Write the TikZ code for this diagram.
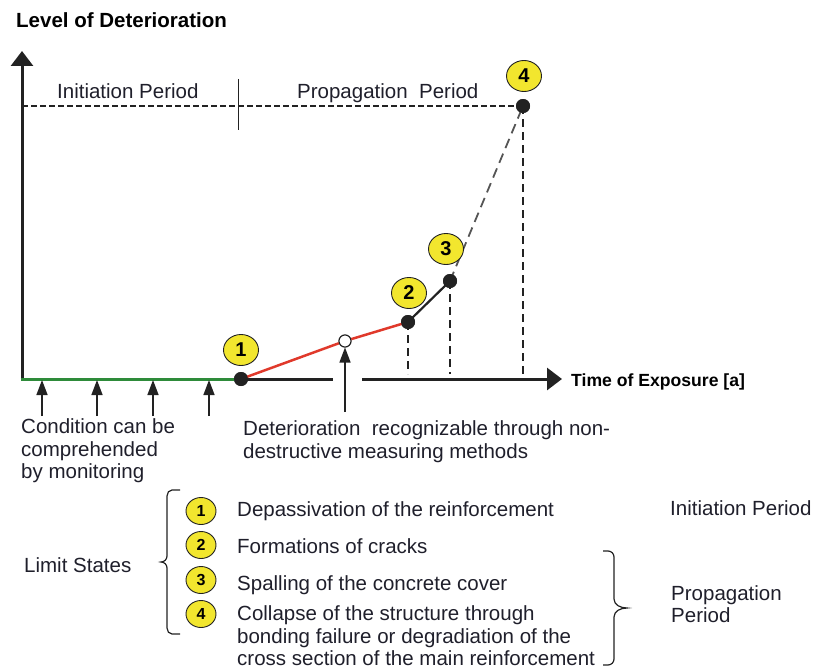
\documentclass[tikz,border=0pt]{standalone}
\usepackage{fontspec}
\setmainfont{Liberation Sans}
\usetikzlibrary{arrows.meta,shapes.geometric}
\definecolor{txt}{HTML}{1F1F2B}
\definecolor{grn}{HTML}{2E8B3A}
\definecolor{redl}{HTML}{E0392B}
\definecolor{ylw}{HTML}{F2E62E}
\definecolor{ax}{HTML}{222222}
\definecolor{dsh}{HTML}{555555}
\begin{document}
\begin{tikzpicture}[x=1pt,y=-1pt,
  base/.style={font=\fontsize{20.5}{22.5}\selectfont, text=txt, inner sep=0pt, anchor=base west},
  boldlbl/.style={base, font=\fontsize{20.5}{22.5}\selectfont\bfseries, text=black},
  axislbl/.style={base, font=\fontsize{17.6}{20}\selectfont\bfseries, text=black},
  num/.style={ellipse, draw=ax, line width=0.9pt, fill=ylw, minimum width=35pt, minimum height=31pt, inner sep=0pt, font=\fontsize{20}{20}\selectfont\bfseries},
  numsmall/.style={num, minimum width=30pt, minimum height=27pt, font=\fontsize{16}{16}\selectfont\bfseries},
  dot/.style={circle, fill=ax, minimum size=14pt, inner sep=0pt},
  odot/.style={circle, draw=ax, fill=white, line width=1pt, minimum size=12pt, inner sep=0pt},
  axisline/.style={line width=3pt, draw=ax},
  bigtip/.style={-{Triangle[length=15pt,width=22pt]}},
  uparrow/.style={line width=1.4pt, draw=ax, -{Triangle[length=15pt,width=11pt]}},
  vdash/.style={line width=2.2pt, draw=ax, dash pattern=on 8pt off 5pt},
  hdash/.style={line width=1.3pt, draw=ax, dash pattern=on 6pt off 3pt},
  bracestyle/.style={line width=1.2pt, draw=ax}
]
\useasboundingbox (0,0) rectangle (814,669);

% axes coordinates
\coordinate (O) at (22,379);
\coordinate (ytip) at (22,51);
\coordinate (xtip) at (562,379);
\coordinate (gapL) at (333,379);
\coordinate (gapR) at (362,379);
\coordinate (ytop) at (22,106);
\coordinate (divT) at (238,79);
\coordinate (divB) at (238,130);

% points
\node[dot] (d1) at (241,379) {};
\node[odot] (o) at (345,341) {};
\node[dot] (d2) at (408,322) {};
\node[dot] (d3) at (450,281) {};
\node[dot] (d4) at (523,106) {};

\coordinate (f2) at (408,374);
\coordinate (f3) at (450,374);
\coordinate (f4) at (523,374);

% dashed lines
\draw[hdash] (ytop) -- (d4.center);
\draw[line width=1pt, draw=ax] (divT) -- (divB);
\draw[vdash] (d2.center) -- (f2);
\draw[vdash] (d3.center) -- (f3);
\draw[vdash] (d4.center) -- (f4);

% axes
\draw[axisline, bigtip] (O) -- (ytip);
\draw[axisline] (d1.center) -- (gapL);
\draw[axisline, bigtip] (gapR) -- (xtip);
\draw[line width=3pt, draw=grn, line cap=butt] ([xshift=-1.5pt]O) -- (d1.center);

% curve
\draw[line width=2.5pt, draw=redl] (d1.center) -- (o);
\draw[line width=2.5pt, draw=redl] (o) -- (d2.center);
\draw[line width=2.2pt, draw=ax] (d2.center) -- (d3.center);
\draw[line width=1.8pt, draw=dsh, dash pattern=on 10pt off 6pt] (d3.center) -- (d4.center);

% redraw dots on top
\node[dot] at (d1) {};
\node[dot] at (d2) {};
\node[dot] at (d3) {};
\node[dot] at (d4) {};
\node[odot] at (o) {};

% number marks in the chart
\node[num] (c1) at (241,350) {1};
\node[num] (c2) at (409,293) {2};
\node[num] (c3) at (446,249) {3};
\node[num] (c4) at (524,76) {4};

% labels in chart
\node[boldlbl] (title) at (16,28) {Level of Deterioration};
\node[base] (ip) at (57,99) {Initiation Period};
\node[base] (pp) at (297,99) {Propagation~~Period};
\node[axislbl] (xl) at (571,386) {Time of Exposure [a]};

% up arrows (monitoring)
\coordinate (a1) at (42,416);
\coordinate (a2) at (97,416);
\coordinate (a3) at (153,416);
\coordinate (a4) at (209,416);
\coordinate (a1t) at (42,380);
\coordinate (a2t) at (97,380);
\coordinate (a3t) at (153,380);
\coordinate (a4t) at (209,380);
\draw[uparrow] (a1) -- (a1t);
\draw[uparrow] (a2) -- (a2t);
\draw[uparrow] (a3) -- (a3t);
\draw[uparrow] (a4) -- (a4t);
\coordinate (a5) at (345,412);
\draw[uparrow] (a5) -- (o.south);

% monitoring texts
\node[base] (m1) at (21,433) {Condition can be};
\node[base] (m2) at (21,456) {comprehended};
\node[base] (m3) at (21,478) {by monitoring};
\node[base] (n1) at (243,435) {Deterioration~~recognizable through non-};
\node[base] (n2) at (243,458) {destructive measuring methods};

% lower legend
\node[base] (ls) at (24,572) {Limit States};
\draw[bracestyle] (180,490) -- (172,490) to[out=180,in=90] (167,496) -- (167,556)
  to[out=-90,in=0] (161,562) to[out=0,in=90] (167,568) -- (167,628)
  to[out=-90,in=180] (172,634) -- (180,634);

\node[numsmall] (s1) at (201,511) {1};
\node[numsmall] (s2) at (201,545) {2};
\node[numsmall] (s3) at (201,580) {3};
\node[numsmall] (s4) at (201,614) {4};

\node[base] (t1) at (237,516) {Depassivation of the reinforcement};
\node[base] (t2) at (237,553) {Formations of cracks};
\node[base] (t3) at (237,590) {Spalling of the concrete cover};
\node[base] (t4a) at (237,620) {Collapse of the structure through};
\node[base] (t4b) at (237,643) {bonding failure or degradiation of the};
\node[base] (t4c) at (237,665) {cross section of the main reinforcement};

\draw[bracestyle] (603,551) -- (608,551) to[out=0,in=90] (614,557) -- (614,599)
  to[out=-90,in=180] (627,608) to[out=180,in=90] (614,617) -- (614,659)
  to[out=-90,in=0] (608,665) -- (603,665);

\node[base] (ri) at (670,515) {Initiation Period};
\node[base] (rp1) at (671,600) {Propagation};
\node[base] (rp2) at (671,622) {Period};
\end{tikzpicture}
\end{document}
